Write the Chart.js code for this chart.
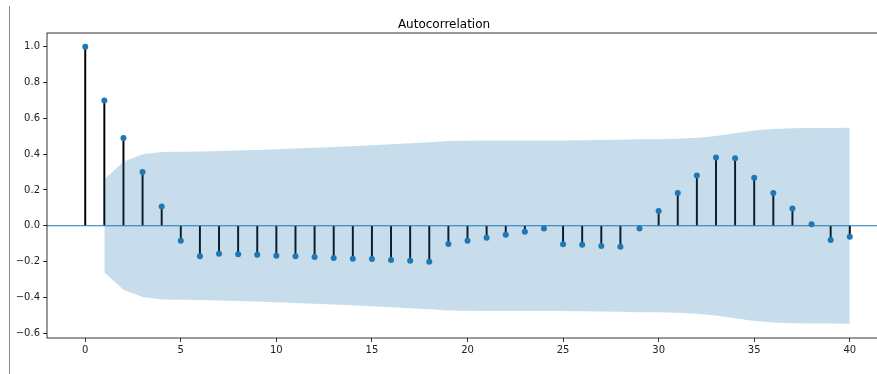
<!DOCTYPE html>
<html>
<head>
<meta charset="utf-8">
<script src="https://cdn.jsdelivr.net/npm/chart.js@4.4.1/dist/chart.umd.min.js"></script>
<style>
  html, body { margin: 0; padding: 0; background: #fff; overflow: hidden; }
  #wrap { position: relative; width: 877px; height: 374px; overflow: hidden; }
  #edge { position: absolute; left: 9px; top: 6px; height: 368px; border-left: 1px solid #8a8a8a; }
  canvas { position: absolute; left: 0; top: 0; }
</style>
</head>
<body>
<div id="wrap">
  <div id="edge"></div>
  <canvas id="acf" width="900" height="374"></canvas>
</div>
<script>
const lags = [0, 1, 2, 3, 4, 5, 6, 7, 8, 9, 10, 11, 12, 13, 14, 15, 16, 17, 18, 19, 20,
  21, 22, 23, 24, 25, 26, 27, 28, 29, 30, 31, 32, 33, 34, 35, 36, 37, 38, 39, 40]

const acfValues = [1.0, 0.70, 0.49, 0.30, 0.108, -0.084, -0.171, -0.156, -0.160, -0.162, -0.168,
  -0.171, -0.175, -0.180, -0.184, -0.186, -0.192, -0.195, -0.201, -0.102, -0.084,
  -0.067, -0.050, -0.033, -0.015, -0.104, -0.106, -0.113, -0.117, -0.015, 0.082,
  0.183, 0.281, 0.382, 0.378, 0.268, 0.183, 0.097, 0.009, -0.080, -0.061]

// confidence band half-width, lags 1..40 (band is symmetric around zero)
const bandLags = lags.slice(1)
const bandUpper = [0.26, 0.358, 0.399, 0.412, 0.413, 0.415, 0.418, 0.421, 0.424, 0.428,
  0.432, 0.436, 0.440, 0.445, 0.450, 0.455, 0.461, 0.467, 0.474, 0.475,
  0.476, 0.476, 0.477, 0.477, 0.477, 0.478, 0.480, 0.481, 0.483, 0.483,
  0.486, 0.492, 0.502, 0.517, 0.533, 0.541, 0.545, 0.547, 0.547, 0.548]
const bandLower = bandUpper.map(v => -v)

const xTicks = [0, 5, 10, 15, 20, 25, 30, 35, 40]
const yTicks = [-0.6, -0.4, -0.2, 0.0, 0.2, 0.4, 0.6, 0.8, 1.0]

const xMin = -2, xMax = 42
const yMin = -0.6275, yMax = 1.0775

const blue = '#1f77b4'
const font = { family: 'DejaVu Sans', size: 10 }

const fmt = v => v.toFixed(1).replace('-', '\u2212')

// box around the plot area (matplotlib spines)
const frame = {
  id: 'frame',
  afterDatasetsDraw(chart) {
    const a = chart.chartArea
    const ctx = chart.ctx
    ctx.save()
    ctx.strokeStyle = '#000'
    ctx.lineWidth = 0.8
    ctx.strokeRect(a.left, a.top, a.right - a.left, a.bottom - a.top)
    ctx.restore()
  }
}

new Chart(document.getElementById('acf'), {
  data: {
    datasets: [
      {
        type: 'line',
        data: bandLags.map((x, i) => ({ x: x, y: bandUpper[i] })),
        borderWidth: 0,
        pointRadius: 0,
        fill: '+1',
        backgroundColor: 'rgba(31,119,180,0.25)',
        tension: 0,
        order: 0
      },
      {
        type: 'line',
        data: bandLags.map((x, i) => ({ x: x, y: bandLower[i] })),
        borderWidth: 0,
        pointRadius: 0,
        fill: false,
        tension: 0,
        order: 0
      },
      {
        type: 'scatter',
        data: lags.map((x, i) => ({ x: x, y: acfValues[i] })),
        pointRadius: 3,
        pointBackgroundColor: blue,
        pointBorderWidth: 0,
        order: 1
      },
      {
        type: 'line',
        data: [{ x: xMin, y: 0 }, { x: xMax, y: 0 }],
        borderColor: blue,
        borderWidth: 1.2,
        pointRadius: 0,
        order: 2
      },
      {
        type: 'bar',
        data: lags.map((x, i) => ({ x: x, y: [0, acfValues[i]] })),
        backgroundColor: '#000',
        barThickness: 1.3,
        order: 3
      }
    ]
  },
  options: {
    responsive: false,
    animation: false,
    devicePixelRatio: 1,
    layout: { padding: { left: 0, right: 12, top: 0, bottom: 0 } },
    plugins: {
      legend: { display: false },
      tooltip: { enabled: false },
      title: {
        display: true,
        text: 'Autocorrelation',
        color: '#000',
        font: { family: 'DejaVu Sans', size: 12, weight: 'normal', lineHeight: 1.2 },
        padding: { top: 18, bottom: 0.6 }
      }
    },
    scales: {
      x: {
        type: 'linear',
        min: xMin,
        max: xMax,
        offset: false,
        afterBuildTicks: s => { s.ticks = xTicks.map(v => ({ value: v })) },
        afterFit: s => { s.height = 36 },
        grid: { offset: false, drawOnChartArea: false, drawTicks: true, tickLength: 4, color: '#000', lineWidth: 0.8 },
        border: { display: false },
        ticks: { font: font, color: '#222', padding: 2, maxRotation: 0, autoSkip: false }
      },
      y: {
        type: 'linear',
        min: yMin,
        max: yMax,
        afterBuildTicks: s => { s.ticks = yTicks.map(v => ({ value: v })) },
        afterFit: s => { s.width = 47 },
        grid: { drawOnChartArea: false, drawTicks: true, tickLength: 4, color: '#000', lineWidth: 0.8 },
        border: { display: false },
        ticks: { font: font, color: '#222', padding: 3, callback: v => fmt(v) }
      }
    }
  },
  plugins: [frame]
})
</script>
</body>
</html>
